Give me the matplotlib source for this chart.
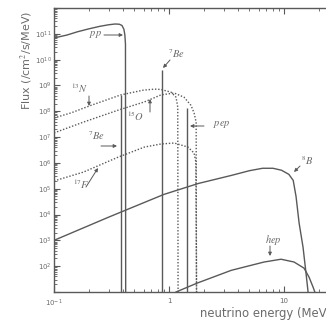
import numpy as np
import matplotlib.pyplot as plt
from matplotlib.ticker import FixedLocator, FuncFormatter, LogLocator, NullFormatter

plt.rcParams["font.family"] = ["DejaVu Sans"]
plt.rcParams["mathtext.fontset"] = "stix"

# Continuum spectra (MeV, /cm^2/s/MeV)
pp_E = [0.10, 0.13, 0.16, 0.20, 0.25, 0.30, 0.34, 0.37, 0.39, 0.405, 0.413, 0.418, 0.420]
pp_flux = [6.9e10, 9.0e10, 1.2e11, 1.55e11, 1.95e11, 2.25e11, 2.4e11, 2.35e11, 2.1e11,
           1.5e11, 9.0e10, 4.0e10, 1.0]

n13_E = [0.10, 0.14, 0.21, 0.38, 0.60, 0.75, 0.85, 1.04, 1.15, 1.19, 1.199]
n13_flux = [5.5e7, 8.6e7, 1.7e8, 4.3e8, 6.6e8, 7.2e8, 7.0e8, 5.5e8, 3.5e8, 1.45e8, 1.0]

o15_E = [0.10, 0.18, 0.36, 0.61, 0.85, 1.11, 1.35, 1.55, 1.65, 1.72, 1.732]
o15_flux = [1.45e7, 3.8e7, 1.1e8, 2.3e8, 4.3e8, 5.1e8, 3.5e8, 1.7e8, 8.6e7, 3.8e7, 1.0]

f17_E = [0.10, 0.18, 0.36, 0.61, 0.85, 1.11, 1.46, 1.65, 1.71, 1.74]
f17_flux = [2.0e5, 4.4e5, 1.66e6, 4.1e6, 5.4e6, 5.9e6, 4.1e6, 2.4e6, 1.1e6, 1.0]

b8_E = [0.10, 0.30, 0.90, 1.8, 3.5, 5.0, 6.5, 8.0, 9.5, 11.0, 12.0, 12.7, 13.5, 14.6, 15.5, 16.2]
b8_flux = [1.0e3, 8.0e3, 6.0e4, 1.6e5, 3.3e5, 5.0e5, 6.2e5, 6.2e5, 5.2e5, 3.6e5, 2.1e5,
           5.0e4, 4.7e3, 5.5e2, 54, 9]

hep_E = [1.15, 1.75, 3.47, 6.7, 9.4, 12.2, 14.9, 16.5, 17.9, 18.5, 18.8]
hep_flux = [10, 22, 69, 145, 186, 145, 84, 37, 15, 10, 1.0]

# Line sources (MeV, /cm^2/s)
line_E = [0.384, 0.862, 1.442]
line_flux = [4.3e8, 4.0e9, 1.3e8]

xtick_values = [0.1, 1, 10]
xtick_labels = [r"$\mathdefault{10^{-1}}$", "1", "10"]

W, H = 326, 323
line_color = "#595959"
text_color = "#6b6b6b"


def pix(x, y):
    # image-style pixel position -> figure pixels
    return (x, H - y)


fig = plt.figure(figsize=(W / 100, H / 100), dpi=100)
ax = fig.add_axes([54 / W, 1 - 292 / H, 285 / W, 284 / H])
ax.set_xscale("log")
ax.set_yscale("log")
ax.set_xlim(0.1, 30)
ax.set_ylim(1e1, 1e12)

solid = dict(color=line_color, lw=1.0)
dotted = dict(color=line_color, lw=1.0, linestyle=(0, (1, 1.3)))

ax.plot(pp_E, pp_flux, **solid)
ax.plot(b8_E, b8_flux, **solid)
ax.plot(hep_E, hep_flux, **solid)
ax.plot(n13_E, n13_flux, **dotted)
ax.plot(o15_E, o15_flux, **dotted)
ax.plot(f17_E, f17_flux, **dotted)
ax.vlines(line_E, 1e1, line_flux, colors=line_color, lw=1.0)

# axes styling
for side in ["left", "bottom", "top"]:
    ax.spines[side].set_color(line_color)
    ax.spines[side].set_linewidth(1.0)
ax.spines["right"].set_visible(False)

ax.yaxis.set_major_locator(FixedLocator([10.0 ** k for k in range(1, 13)]))
ax.yaxis.set_minor_locator(LogLocator(base=10, subs=np.arange(2, 10), numticks=20))
ax.yaxis.set_major_formatter(FuncFormatter(
    lambda v, p: "" if v < 50 or v > 5e11 else r"$\mathdefault{10^{%d}}$" % round(np.log10(v))))
ax.yaxis.set_minor_formatter(NullFormatter())

ax.xaxis.set_major_locator(FixedLocator(xtick_values))
ax.xaxis.set_minor_locator(LogLocator(base=10, subs=np.arange(2, 10), numticks=20))
ax.xaxis.set_major_formatter(FuncFormatter(
    lambda v, p: xtick_labels[xtick_values.index(v)] if v in xtick_values else ""))
ax.xaxis.set_minor_formatter(NullFormatter())

ax.tick_params(which="both", direction="in", colors=line_color, top=True, right=False,
               labelcolor=text_color, labelsize=5)
ax.tick_params(which="major", length=4, width=0.8)
ax.tick_params(which="minor", length=2, width=0.6)
ax.tick_params(axis="y", pad=1.5)
ax.tick_params(axis="x", pad=4)

fig.text(27 / W, 1 - 60 / H, r"Flux (/cm$^2$/s/MeV)", rotation=90, ha="center", va="center",
         fontsize=8, color=text_color)
fig.text(200 / W, 1 - 313 / H, "neutrino energy (MeV)", ha="left", va="center",
         fontsize=8.4, color=text_color)

# source labels: text, arrow tail, arrow tip
labels = [
    (r"$pp$", (95, 35), (104, 35), (123, 35)),
    (r"$^{13}N$", (80, 88), (89, 96), (89, 106)),
    (r"$^{15}O$", (136, 116), (150, 112), (150, 99)),
    (r"$^{7}Be$", (96, 136), (101, 146), (117, 146)),
    (r"$^{17}F$", (81, 184), (86, 187), (98, 168)),
    (r"$^{7}Be$", (176, 54), (170, 60), (163, 68)),
    (r"$pep$", (222, 125), (204, 126), (190, 126)),
    (r"$^{8}B$", (307, 161), (300, 166), (294, 172)),
    (r"$hep$", (273, 240), (270, 246), (270, 256)),
]
for txt, pos, tail, tip in labels:
    fig.text(pos[0] / W, 1 - pos[1] / H, txt, ha="center", va="center",
             fontsize=7.5, color=text_color)
    ax.annotate("", xy=pix(*tip), xytext=pix(*tail), xycoords="figure pixels",
                textcoords="figure pixels",
                arrowprops=dict(arrowstyle="-|>", color=line_color, lw=0.7,
                                mutation_scale=5, shrinkA=0, shrinkB=0))

fig.savefig("out.png", dpi=100)
